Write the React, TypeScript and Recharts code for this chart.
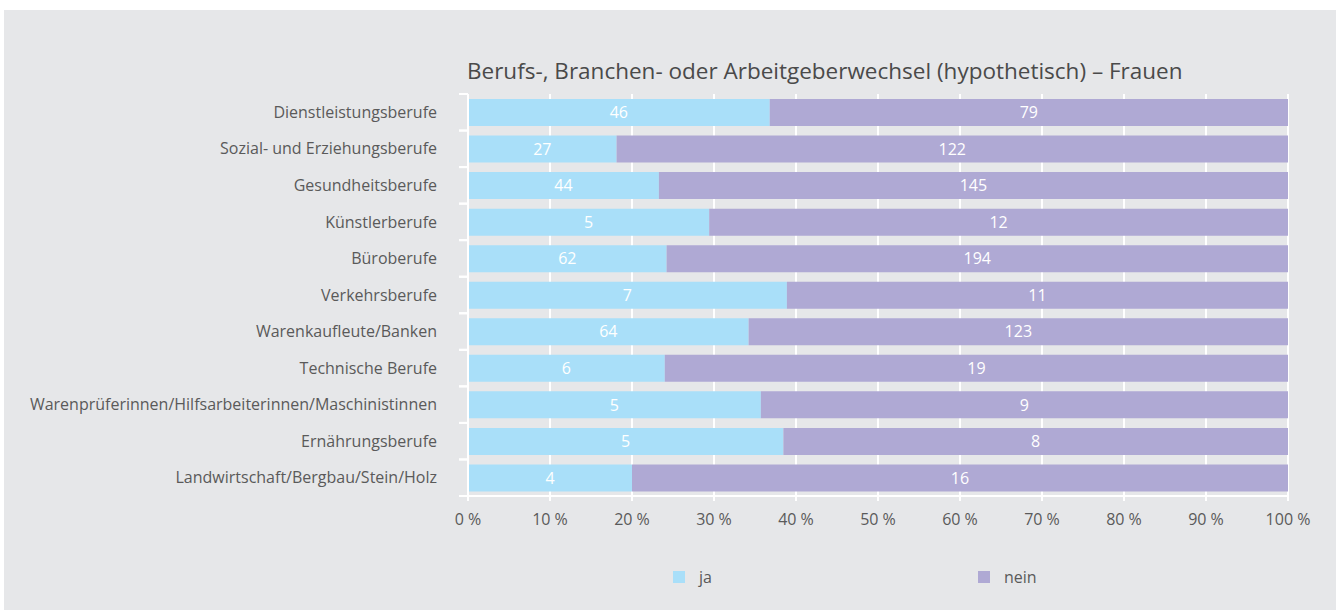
import { Bar, BarChart, CartesianGrid, LabelList, Legend, XAxis, YAxis } from 'recharts';

const categories = [
  'Dienstleistungsberufe',
  'Sozial- und Erziehungsberufe',
  'Gesundheitsberufe',
  'Künstlerberufe',
  'Büroberufe',
  'Verkehrsberufe',
  'Warenkaufleute/Banken',
  'Technische Berufe',
  'Warenprüferinnen/Hilfsarbeiterinnen/Maschinistinnen',
  'Ernährungsberufe',
  'Landwirtschaft/Bergbau/Stein/Holz',
];
const jaValues = [46, 27, 44, 5, 62, 7, 64, 6, 5, 5, 4];
const neinValues = [79, 122, 145, 12, 194, 11, 123, 19, 9, 8, 16];
const xTicks = [0, 0.1, 0.2, 0.3, 0.4, 0.5, 0.6, 0.7, 0.8, 0.9, 1];

const data = categories.map((name, i) => ({ name, ja: jaValues[i], nein: neinValues[i] }));

const FONT = "'Open Sans', sans-serif";
const TEXT = '#5a5a5a';
const JA = '#a9dff9';
const NEIN = '#afa9d4';
const W = 1332;
const H = 600;
const TOP = 84;
const BOTTOM = 114;
const band = (H - TOP - BOTTOM) / categories.length;

const YTick = (props: any) => {
  const { x, y, payload } = props;
  return (
    <g>
      <line x1={x - 9} x2={x} y1={y - band / 2} y2={y - band / 2} stroke='#fff' strokeWidth={2} />
      <line x1={x - 9} x2={x} y1={y + band / 2} y2={y + band / 2} stroke='#fff' strokeWidth={2} />
      <text x={x - 31} y={y} dy='0.35em' textAnchor='end' fill={TEXT} fontSize={16} fontFamily={FONT}>
        {payload.value}
      </text>
    </g>
  );
};

const LegendContent = () => (
  <div style={{ display: 'flex', paddingLeft: 669, height: 20, alignItems: 'center', fontFamily: FONT, fontSize: 16, color: TEXT }}>
    {[
      { name: 'ja', color: JA },
      { name: 'nein', color: NEIN },
    ].map((item) => (
      <div key={item.name} style={{ display: 'flex', alignItems: 'center', width: 305 }}>
        <span style={{ width: 12, height: 12, background: item.color, marginRight: 14 }} />
        {item.name}
      </div>
    ))}
  </div>
);

export default function App() {
  return (
    <div style={{ position: 'absolute', left: 4, top: 10, width: W, height: H, background: '#e6e7e9' }}>
      <div style={{ position: 'absolute', left: 463, top: 45, fontFamily: FONT, fontSize: 22.5, color: '#4a4a4a', whiteSpace: 'nowrap' }}>
        Berufs-, Branchen- oder Arbeitgeberwechsel (hypothetisch) – Frauen
      </div>
      <BarChart
        width={W}
        height={H}
        data={data}
        layout='vertical'
        stackOffset='expand'
        barSize={27}
        margin={{ top: TOP, right: 48, bottom: BOTTOM - 30 - 20, left: 0 }}
      >
        <CartesianGrid horizontal={false} stroke='#fff' strokeWidth={2} />
        <XAxis
          type='number'
          domain={[0, 1]}
          ticks={xTicks}
          interval={0}
          height={30}
          tickFormatter={(v: number) => `${Math.round(v * 100)} %`}
          axisLine={{ stroke: '#fff', strokeWidth: 2 }}
          tickLine={{ stroke: '#fff', strokeWidth: 2 }}
          tickSize={5}
          tickMargin={13}
          tick={{ fill: TEXT, fontSize: 16, fontFamily: FONT }}
        />
        <YAxis
          type='category'
          dataKey='name'
          width={464}
          interval={0}
          axisLine={{ stroke: '#fff', strokeWidth: 2 }}
          tickLine={false}
          tickSize={0}
          tickMargin={0}
          tick={<YTick />}
        />
        <Legend verticalAlign='bottom' content={<LegendContent />} wrapperStyle={{ top: 557, left: 0, width: W }} />
        <Bar dataKey='ja' stackId='a' fill={JA} isAnimationActive={false}>
          <LabelList dataKey='ja' position='center' fill='#fff' fontSize={16} fontFamily={FONT} />
        </Bar>
        <Bar dataKey='nein' stackId='a' fill={NEIN} isAnimationActive={false}>
          <LabelList dataKey='nein' position='center' fill='#fff' fontSize={16} fontFamily={FONT} />
        </Bar>
      </BarChart>
    </div>
  );
}
